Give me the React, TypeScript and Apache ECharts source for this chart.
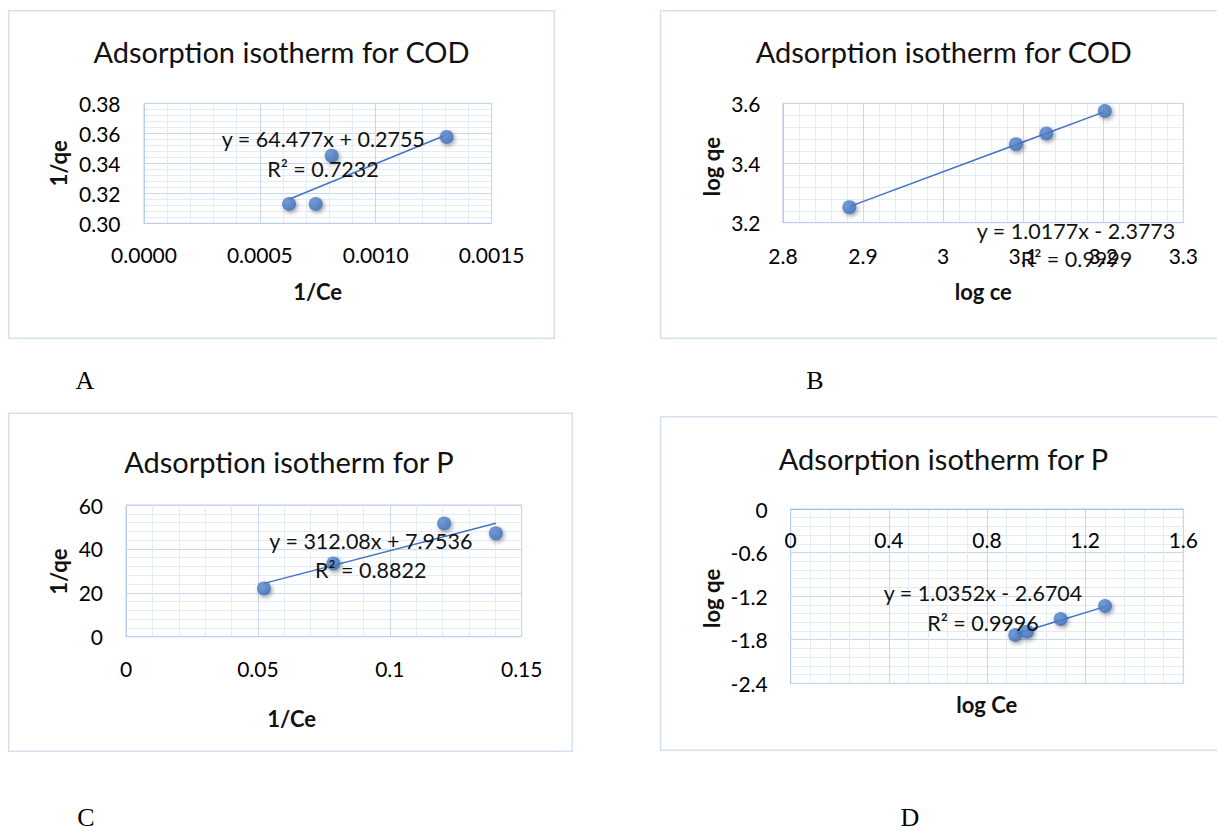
import React, { useEffect, useRef } from "react";
import * as echarts from "echarts";

// ---- data ----
const codInvX = [0.000626, 0.000741, 0.00081, 0.001306];
const codInvY = [0.3129, 0.3129, 0.3451, 0.3576];
const codInvTrendX = [0.000626, 0.001306];
const codInvTrendY = [0.316, 0.359];

const codLogX = [2.883, 3.091, 3.129, 3.202];
const codLogY = [3.252, 3.463, 3.499, 3.574];
const codLogTrendX = [2.883, 3.202];
const codLogTrendY = [3.254, 3.572];

const pInvX = [0.0523, 0.0786, 0.1206, 0.1402];
const pInvY = [22.0, 33.4, 51.6, 47.1];
const pInvTrendX = [0.0523, 0.1402];
const pInvTrendY = [24.3, 51.7];

const pLogX = [0.915, 0.963, 1.1, 1.281];
const pLogY = [-1.735, -1.689, -1.514, -1.335];
const pLogTrendX = [0.915, 1.281];
const pLogTrendY = [-1.723, -1.344];

const titles = [
  "Adsorption isotherm for COD",
  "Adsorption isotherm for COD",
  "Adsorption isotherm for P",
  "Adsorption isotherm for P",
];
const xNames = ["1/Ce", "log ce", "1/Ce", "log Ce"];
const yNames = ["1/qe", "log qe", "1/qe", "log qe"];
const equations = [
  "y = 64.477x + 0.2755",
  "y = 1.0177x - 2.3773",
  "y = 312.08x + 7.9536",
  "y = 1.0352x - 2.6704",
];
const rSquared = ["R² = 0.7232", "R² = 0.9999", "R² = 0.8822", "R² = 0.9996"];
const panelLetters = ["A", "B", "C", "D"];

// axis ranges: [min, max, step, decimals]
const xRanges = [
  [0, 0.0015, 0.0005, 4],
  [2.8, 3.3, 0.1, -1],
  [0, 0.15, 0.05, -1],
  [0, 1.6, 0.4, -1],
];
const yRanges = [
  [0.3, 0.38, 0.02, 2],
  [3.2, 3.6, 0.2, -1],
  [0, 60, 20, -1],
  [-2.4, 0, 0.6, -1],
];

const FONT = 'Lato, "Noto Sans", sans-serif';
const MAJOR = "#c6d7ef";
const MINOR = "#e3ebf7";
const BORDER = "#b8cdeb";
const BLUE = "#4472C4";

const fmt = (dec: number) => (v: number) => {
  if (dec >= 0) return v.toFixed(dec);
  return String(Math.round(v * 10000) / 10000);
};

// layout
const grids = [
  { left: 144, top: 103.3, width: 347.6, height: 120 },
  { left: 782.9, top: 103.3, width: 400.4, height: 119.4 },
  { left: 126, top: 505, width: 395.7, height: 131.7 },
  { left: 790.7, top: 509, width: 392.6, height: 174.3 },
];
const titlePos = [
  [281.5, 51.7],
  [943.8, 51.7],
  [288.9, 461.7],
  [943.5, 458.3],
];
const xNamePos = [
  [317.6, 291.7],
  [983.3, 291.7],
  [291.6, 718.3],
  [986.8, 704],
];
const yNamePos = [
  [58.4, 163.3],
  [711.5, 166.7],
  [58.6, 571.7],
  [711.5, 598.3],
];
const eqPos = [
  [323.3, 139.3, 323, 169.3],
  [1076, 230.7, 1076.5, 259.3],
  [370.9, 540.7, 370.7, 570],
  [983, 593.3, 983, 622.7],
];
const letterPos = [
  [85, 380],
  [815, 380],
  [86, 817],
  [910, 817],
];
const frames = [
  [8.75, 10.75, 545.5, 327.5],
  [660.5, 10.75, 600, 327.5],
  [8.75, 413.25, 563.5, 338],
  [660.5, 416.75, 600, 333.5],
];
const xLabelMargin = [21, 22, 21, 20];
const yLabelMargin = [23.5, 22.4, 23, 23];

export default function App() {
  const ref = useRef<HTMLDivElement>(null);
  useEffect(() => {
    if (!ref.current) return;
    const chart = echarts.init(ref.current, undefined, { renderer: "svg" });
    const xs = [codInvX, codLogX, pInvX, pLogX];
    const ys = [codInvY, codLogY, pInvY, pLogY];
    const txs = [codInvTrendX, codLogTrendX, pInvTrendX, pLogTrendX];
    const tys = [codInvTrendY, codLogTrendY, pInvTrendY, pLogTrendY];

    const xAxis = xRanges.map((r, i) => ({
      type: "value",
      gridIndex: i,
      min: r[0],
      max: r[1],
      interval: r[2],
      position: i === 3 ? "top" : "bottom",
      axisLine: { show: true, onZero: false, lineStyle: { color: i === 3 ? "#a6c1e8" : BORDER, width: 1 } },
      axisTick: { show: false },
      axisLabel: {
        show: true,
        inside: i === 3,
        showMinLabel: true,
        showMaxLabel: true,
        hideOverlap: false,
        fontSize: 21,
        fontFamily: FONT,
        color: "#000",
        margin: xLabelMargin[i],
        formatter: fmt(r[3]),
      },
      splitLine: { show: true, lineStyle: { color: MAJOR, width: 1 } },
      minorTick: { show: false, splitNumber: 5 },
      minorSplitLine: { show: true, lineStyle: { color: MINOR, width: 1 } },
    }));
    const yAxis = yRanges.map((r, i) => ({
      type: "value",
      gridIndex: i,
      min: r[0],
      max: r[1],
      interval: r[2],
      axisLine: { show: true, onZero: false, lineStyle: { color: BORDER, width: 1 } },
      axisTick: { show: false },
      axisLabel: {
        show: true,
        showMinLabel: true,
        showMaxLabel: true,
        fontSize: 21,
        fontFamily: FONT,
        color: "#000",
        margin: yLabelMargin[i],
        formatter: fmt(r[3]),
      },
      splitLine: { show: true, lineStyle: { color: MAJOR, width: 1 } },
      minorTick: { show: false, splitNumber: 5 },
      minorSplitLine: { show: true, lineStyle: { color: MINOR, width: 1 } },
    }));

    const series: any[] = [];
    for (let i = 0; i < 4; i++) {
      series.push({
        type: "line",
        xAxisIndex: i,
        yAxisIndex: i,
        data: txs[i].map((x, j) => [x, tys[i][j]]),
        showSymbol: false,
        symbol: "none",
        lineStyle: { color: BLUE, width: 1.5 },
        z: 2,
        silent: true,
      });
      series.push({
        type: "scatter",
        xAxisIndex: i,
        yAxisIndex: i,
        data: xs[i].map((x, j) => [x, ys[i][j]]),
        symbolSize: 14,
        itemStyle: {
          color: {
            type: "radial",
            x: 0.4,
            y: 0.4,
            r: 0.6,
            colorStops: [
              { offset: 0, color: "#5b8ed6" },
              { offset: 1, color: "#3d6db5" },
            ],
          },
          shadowBlur: 4,
          shadowColor: "rgba(0,0,0,0.45)",
          shadowOffsetX: 1.5,
          shadowOffsetY: 2,
        },
        z: 3,
        silent: true,
      });
    }

    const graphic: any[] = [];
    frames.forEach((f) => {
      graphic.push({
        type: "rect",
        shape: { x: f[0], y: f[1], width: f[2], height: f[3] },
        style: { fill: "none", stroke: "#d5e1f2", lineWidth: 1.5 },
        z: 0,
        silent: true,
      });
    });
    for (let i = 0; i < 4; i++) {
      graphic.push({
        type: "text",
        x: titlePos[i][0],
        y: titlePos[i][1],
        style: { text: titles[i], fontSize: 29, fontFamily: FONT, fill: "#111", align: "center", verticalAlign: "middle" },
        z: 10,
      });
      graphic.push({
        type: "text",
        x: xNamePos[i][0],
        y: xNamePos[i][1],
        style: { text: xNames[i], fontSize: 22, fontWeight: "bold", fontFamily: FONT, fill: "#111", align: "center", verticalAlign: "middle" },
        z: 10,
      });
      graphic.push({
        type: "text",
        x: yNamePos[i][0],
        y: yNamePos[i][1],
        rotation: Math.PI / 2,
        style: { text: yNames[i], fontSize: 22, fontWeight: "bold", fontFamily: FONT, fill: "#111", align: "center", verticalAlign: "middle" },
        z: 10,
      });
      graphic.push({
        type: "text",
        x: eqPos[i][0],
        y: eqPos[i][1],
        style: { text: equations[i], fontSize: 21.5, fontFamily: FONT, fill: "#111", align: "center", verticalAlign: "middle" },
        z: 10,
      });
      graphic.push({
        type: "text",
        x: eqPos[i][2],
        y: eqPos[i][3],
        style: { text: rSquared[i], fontSize: 21.5, fontFamily: FONT, fill: "#111", align: "center", verticalAlign: "middle" },
        z: 10,
      });
      graphic.push({
        type: "text",
        x: letterPos[i][0],
        y: letterPos[i][1],
        style: { text: panelLetters[i], fontSize: 26, fontFamily: '"Liberation Serif", "DejaVu Serif", serif', fill: "#000", align: "center", verticalAlign: "middle" },
        z: 10,
      });
    }

    chart.setOption({
      animation: false,
      backgroundColor: "#ffffff",
      grid: grids.map((g) => ({ ...g, show: true, borderColor: BORDER, borderWidth: 1, containLabel: false })),
      xAxis,
      yAxis,
      series,
      graphic,
    });
    return () => chart.dispose();
  }, []);
  return <div ref={ref} style={{ position: "fixed", left: 0, top: 0, width: 1217, height: 831 }} />;
}
